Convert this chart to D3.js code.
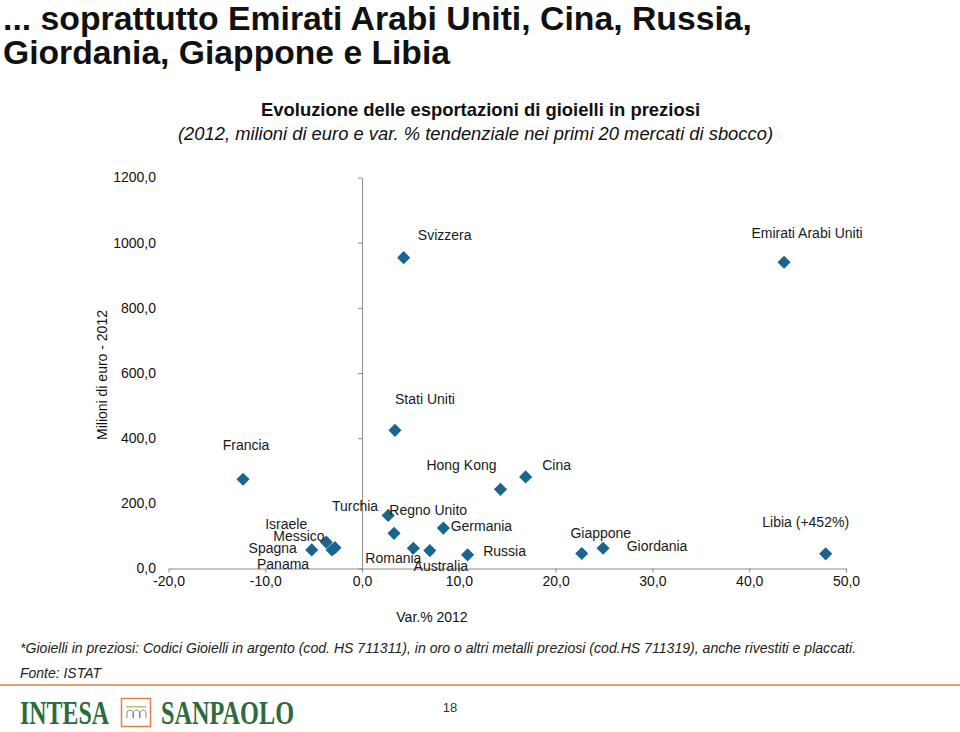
<!DOCTYPE html>
<html>
<head>
<meta charset="utf-8">
<script src="https://cdn.jsdelivr.net/npm/d3@7"></script>
<style>
  html, body { margin: 0; padding: 0; background: #fff; }
  svg { display: block; }
  text { font-family: "Liberation Sans", Arial, Helvetica, sans-serif; }
</style>
</head>
<body>
<svg id="chart" width="960" height="732"></svg>
<script>
// ---- Data ----
const countries = ["Svizzera", "Emirati Arabi Uniti", "Stati Uniti", "Francia", "Hong Kong", "Cina",
  "Regno Unito", "Turchia", "Germania", "Israele", "Messico", "Panama", "Spagna",
  "Romania", "Australia", "Russia", "Giappone", "Giordania", "Libia (+452%)"];
const varPct2012 = [4.3, 43.6, 3.4, -12.3, 14.3, 16.9, 2.7, 3.3, 8.4, -3.7, -2.8, -3.1, -5.2, 5.3, 7.0, 10.9, 22.7, 24.9, 47.9];
const milioniEuro2012 = [954, 940, 424, 274, 243, 281, 163, 108, 124, 81, 64, 57, 57, 62, 55, 42, 46, 62, 45];
const xTicks = [-20, -10, 0, 10, 20, 30, 40, 50];
const yTicks = [0, 200, 400, 600, 800, 1000, 1200];

// label offsets (layout, px) relative to each marker
const labelDx = [41, 23, 30, 3, -39, 31, 40, -39, 38, -40, -36, -49, -39, -20, 11, 37, 19, 54, -20];
const labelDy = [-23, -29, -31, -34, -24, -12, -5, -27, -2, -18, -12, 14, -2, 10, 16, -4, -20, -2, -32];

const fmt = v => d3.format(".1f")(v).replace(".", ",").replace("\u2212", "-");

const svg = d3.select("#chart");

// ---- Titles ----
svg.append("text").attr("x", 3).attr("y", 30)
  .attr("textLength", 749).attr("lengthAdjust", "spacingAndGlyphs")
  .style("font-weight", "bold").style("font-size", "33px").attr("fill", "#111")
  .text("... soprattutto Emirati Arabi Uniti, Cina, Russia,");
svg.append("text").attr("x", 3).attr("y", 64)
  .attr("textLength", 447).attr("lengthAdjust", "spacingAndGlyphs")
  .style("font-weight", "bold").style("font-size", "33px").attr("fill", "#111")
  .text("Giordania, Giappone e Libia");

svg.append("text").attr("x", 261).attr("y", 116)
  .attr("textLength", 439).attr("lengthAdjust", "spacingAndGlyphs")
  .style("font-weight", "bold").style("font-size", "19px").attr("fill", "#111")
  .text("Evoluzione delle esportazioni di gioielli in preziosi");
svg.append("text").attr("x", 178).attr("y", 140)
  .attr("textLength", 595).attr("lengthAdjust", "spacingAndGlyphs")
  .style("font-style", "italic").style("font-size", "19px").attr("fill", "#111")
  .text("(2012, milioni di euro e var. % tendenziale nei primi 20 mercati di sbocco)");

// ---- Scales ----
const x = d3.scaleLinear().domain([-20, 50]).range([168.5, 846]);
const y = d3.scaleLinear().domain([0, 1200]).range([568.5, 177.5]);

const axisColor = "#8a8a8a";

// X axis (at y=0)
const xAxis = svg.append("g").attr("transform", `translate(0,${y(0)})`)
  .call(d3.axisBottom(x).tickValues(xTicks).tickSize(4).tickSizeOuter(0).tickFormat(fmt).tickPadding(4));
xAxis.select(".domain").attr("stroke", axisColor);
xAxis.selectAll(".tick line").attr("stroke", axisColor);
xAxis.selectAll(".tick text").style("font-size", "14px").attr("fill", "#111");

// Y axis (line at x=0, labels at low position)
const yAxis = svg.append("g").attr("transform", `translate(${x(0)},0)`)
  .call(d3.axisLeft(y).tickValues(yTicks).tickSize(4).tickSizeOuter(0).tickFormat(""));
yAxis.select(".domain").attr("stroke", axisColor);
yAxis.selectAll(".tick line").attr("stroke", axisColor);

svg.append("g").selectAll("text").data(yTicks).join("text")
  .attr("x", 156).attr("y", d => y(d)).attr("dy", "0.35em")
  .attr("text-anchor", "end").style("font-size", "14px").attr("fill", "#111")
  .text(fmt);

// Axis titles
svg.append("text").attr("transform", `translate(107,${375}) rotate(-90)`)
  .attr("text-anchor", "middle").style("font-size", "14px").attr("fill", "#111")
  .text("Milioni di euro - 2012");
svg.append("text").attr("x", 432).attr("y", 622)
  .attr("text-anchor", "middle").style("font-size", "14px").attr("fill", "#111")
  .text("Var.% 2012");

// ---- Points ----
const pts = countries.map((c, i) => ({ c, vx: varPct2012[i], vy: milioniEuro2012[i], dx: labelDx[i], dy: labelDy[i] }));
const sym = d3.symbol().type(d3.symbolDiamond2).size(110);
svg.append("g").selectAll("path").data(pts).join("path")
  .attr("transform", d => `translate(${x(d.vx)},${y(d.vy)})`)
  .attr("d", sym).attr("fill", "#17668f");

svg.append("g").selectAll("text").data(pts).join("text")
  .attr("x", d => x(d.vx) + d.dx).attr("y", d => y(d.vy) + d.dy).attr("dy", "0.35em")
  .attr("text-anchor", "middle").style("font-size", "14px").attr("fill", "#1a1a1a")
  .text(d => d.c);

// ---- Footnotes ----
svg.append("text").attr("x", 20).attr("y", 653)
  .attr("textLength", 836).attr("lengthAdjust", "spacingAndGlyphs")
  .style("font-style", "italic").style("font-size", "14px").attr("fill", "#222")
  .text("*Gioielli in preziosi: Codici Gioielli in argento (cod. HS 711311), in oro o altri metalli preziosi (cod.HS 711319), anche rivestiti e placcati.");
svg.append("text").attr("x", 20).attr("y", 678)
  .attr("textLength", 81).attr("lengthAdjust", "spacingAndGlyphs")
  .style("font-style", "italic").style("font-size", "14px").attr("fill", "#222")
  .text("Fonte: ISTAT");

svg.append("line").attr("x1", 0).attr("x2", 960).attr("y1", 685).attr("y2", 685)
  .attr("stroke", "#dca27c").attr("stroke-width", 2);

svg.append("text").attr("x", 450).attr("y", 712).attr("text-anchor", "middle")
  .style("font-size", "13px").attr("fill", "#333").text("18");

// ---- Logo ----
const green = "#2d6b3c";
svg.append("text").attr("x", 20).attr("y", 724)
  .attr("textLength", 89).attr("lengthAdjust", "spacingAndGlyphs")
  .style("font-family", "'Liberation Serif', 'Times New Roman', serif")
  .style("font-size", "33px").style("font-weight", "bold").attr("fill", green).text("INTESA");
svg.append("text").attr("x", 161).attr("y", 724)
  .attr("textLength", 133).attr("lengthAdjust", "spacingAndGlyphs")
  .style("font-family", "'Liberation Serif', 'Times New Roman', serif")
  .style("font-size", "33px").style("font-weight", "bold").attr("fill", green).text("SANPAOLO");
const logo = svg.append("g").attr("transform", "translate(121,698)");
logo.append("rect").attr("x", 0.5).attr("y", 0.5).attr("width", 29).attr("height", 28)
  .attr("fill", "#fff").attr("stroke", "#d9824a").attr("stroke-width", 1.5);
logo.append("rect").attr("x", 5).attr("y", 8).attr("width", 20).attr("height", 1.5).attr("fill", "#b8c46a");
[0, 1, 2].forEach(i => {
  logo.append("path")
    .attr("d", `M${6 + i * 6.5},20 L${6 + i * 6.5},14 Q${9 + i * 6.5},10 ${12 + i * 6.5},14 L${12 + i * 6.5},20`)
    .attr("fill", "none").attr("stroke", "#888").attr("stroke-width", 1);
});
</script>
</body>
</html>
